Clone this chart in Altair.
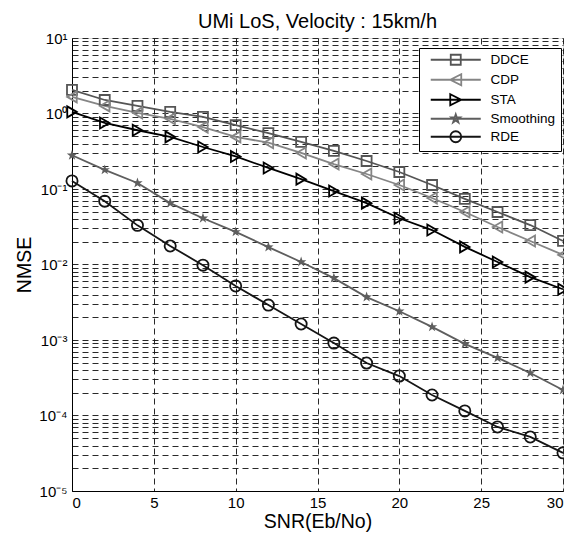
import altair as alt
import pandas as pd

snr = [0, 2, 4, 6, 8, 10, 12, 14, 16, 18, 20, 22, 24, 26, 28, 30]

ddce = [2.05, 1.51, 1.26, 1.05, 0.90, 0.70, 0.55, 0.42, 0.32, 0.235, 0.168, 0.113, 0.074, 0.0496, 0.0333, 0.0205]
cdp = [1.66, 1.26, 1.02, 0.85, 0.66, 0.49, 0.41, 0.30, 0.214, 0.158, 0.113, 0.076, 0.0496, 0.0314, 0.0205, 0.0134]
sta = [1.05, 0.75, 0.60, 0.49, 0.36, 0.27, 0.19, 0.135, 0.094, 0.065, 0.041, 0.0286, 0.0171, 0.0108, 0.0068, 0.0047]
smoothing = [0.28, 0.179, 0.12, 0.065, 0.041, 0.027, 0.017, 0.0108, 0.0066, 0.0037, 0.0024, 0.00149, 0.00089, 0.00058, 0.000366, 0.000218]
rde = [0.128, 0.069, 0.033, 0.0176, 0.0098, 0.0052, 0.0029, 0.00163, 0.00091, 0.000495, 0.000333, 0.000187, 0.000115, 0.0000705, 0.000052, 0.000032]

series_names = ["DDCE", "CDP", "STA", "Smoothing", "RDE"]
series_values = [ddce, cdp, sta, smoothing, rde]
series_colors = ["#555555", "#858585", "#000000", "#5e5e5e", "#151515"]

x_ticks = [0, 5, 10, 15, 20, 25, 30]
y_grid = [m * 10.0 ** e for e in range(-5, 1) for m in range(1, 10)] + [10.0]
decade_labels = ["10\u207b\u2075", "10\u207b\u2074", "10\u207b\u00b3", "10\u207b\u00b2", "10\u207b\u00b9", "10\u2070", "10\u00b9"]

rows = []
for name, vals in zip(series_names, series_values):
    for x, v in zip(snr, vals):
        rows.append({"snr": x, "nmse": v, "series": name})
df = pd.DataFrame(rows)

star = "M0,-1L0.23,-0.32L0.95,-0.31L0.37,0.12L0.59,0.81L0,0.39L-0.59,0.81L-0.37,0.12L-0.95,-0.31L-0.23,-0.32Z"
plot_shapes = ["square", "triangle-left", "triangle-right", star, "circle"]
plot_sizes = [100, 120, 120, 120, 125]
# legend symbols: line segment with marker, drawn in units of 5px
legend_shapes = [
    "M0,0L10,0M4,-1L6,-1L6,1L4,1Z",
    "M0,0L10,0M3.9,0L6.1,-1.1L6.1,1.1Z",
    "M0,0L10,0M6.1,0L3.9,-1.1L3.9,1.1Z",
    "M0,0L10,0M5,-0.9L5.206,-0.283L5.856,-0.278L5.333,0.108L5.529,0.728L5,0.35L4.471,0.728L4.667,0.108L4.144,-0.278L4.794,-0.283Z",
    "M0,0L10,0M6.1,0A1.1,1.1 0 1,1 3.9,0A1.1,1.1 0 1,1 6.1,0Z",
]

label_expr = (
    "abs(log(datum.value)/LN10 - round(log(datum.value)/LN10)) < 1e-6 ? "
    + str(decade_labels)
    + "[round(log(datum.value)/LN10)+5] : ''"
)

x_enc = alt.X("snr:Q", scale=alt.Scale(domain=[0, 30], nice=False),
              axis=alt.Axis(values=x_ticks, title="SNR(Eb/No)", grid=True,
                            gridDash=[6, 4], gridColor="#111111", gridWidth=0.9,
                            labelFontSize=15, titleFontSize=19.5, titleFontWeight="normal",
                            labelPadding=4, titlePadding=2, ticks=False,
                            domainColor="black", labelColor="black", titleColor="black"))
y_enc = alt.Y("nmse:Q", scale=alt.Scale(type="log", domain=[1e-5, 10], nice=False),
              axis=alt.Axis(values=y_grid, labelExpr=label_expr, title="NMSE", grid=True,
                            gridDash=[6, 4], gridColor="#111111", gridWidth=0.9,
                            labelFontSize=15, titleFontSize=19.5, titleFontWeight="normal",
                            labelPadding=5, titlePadding=4, ticks=False,
                            domainColor="black", labelColor="black", titleColor="black"))

base = alt.Chart(df)
layers = []
for name, col in zip(series_names, series_colors):
    layers.append(
        base.transform_filter(alt.datum.series == name)
        .mark_line(strokeWidth=1.8, color=col)
        .encode(x=x_enc, y=y_enc)
    )
for name, col, shp, sz in zip(series_names, series_colors, plot_shapes, plot_sizes):
    layers.append(
        base.transform_filter(alt.datum.series == name)
        .mark_point(shape=shp, size=sz, filled=(name == "Smoothing"), strokeWidth=1.8,
                    opacity=1, color=col)
        .encode(x="snr:Q", y="nmse:Q")
    )

legend_props = dict(title=None, orient="none", legendX=347, legendY=10,
                    symbolSize=100, symbolStrokeWidth=1.8,
                    labelFontSize=13.5, labelColor="black", labelOffset=53,
                    rowPadding=1, padding=5, strokeColor="black",
                    fillColor="white", labelFont="Liberation Sans")
legend_layer = base.mark_point(filled=False, strokeWidth=1.8, opacity=0).encode(
    x="snr:Q", y="nmse:Q",
    color=alt.Color("series:N", scale=alt.Scale(domain=series_names, range=series_colors),
                    legend=alt.Legend(**legend_props)),
    shape=alt.Shape("series:N", scale=alt.Scale(domain=series_names, range=legend_shapes),
                    legend=alt.Legend(**legend_props)),
)
layers.append(legend_layer)

chart = alt.layer(*layers).properties(
    width=491, height=453,
    title=alt.Title("UMi LoS, Velocity : 15km/h", fontSize=20, fontWeight="normal",
                    font="Liberation Sans", color="black", offset=-1),
    autosize=alt.AutoSizeParams(type="none"),
    padding={"left": 64, "top": 30, "right": 1, "bottom": 41},
).configure_view(
    stroke="black", strokeWidth=1
).configure_legend(
    symbolOpacity=1
).configure_axis(
    labelFont="Liberation Sans", titleFont="Liberation Sans"
).configure(background="white")

chart.save("out.html", embed_options={"renderer": "svg", "actions": False})
